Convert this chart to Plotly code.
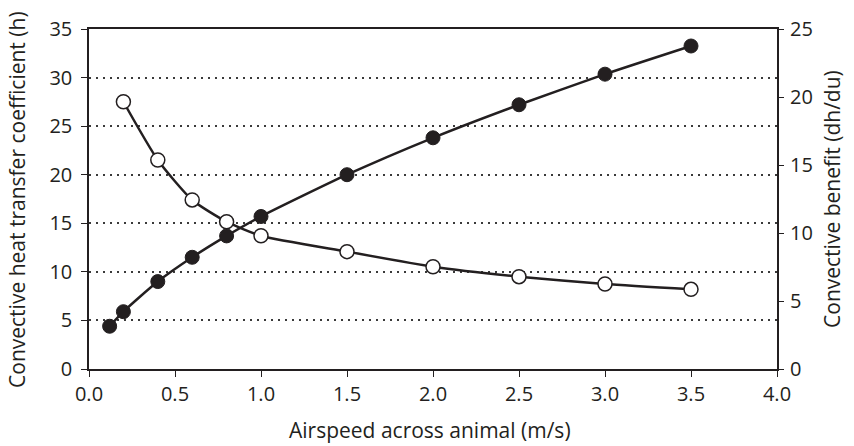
import plotly.graph_objects as go

speed_h = [0.12, 0.2, 0.4, 0.6, 0.8, 1.0, 1.5, 2.0, 2.5, 3.0, 3.5]
h_values = [4.4, 5.9, 9.0, 11.5, 13.7, 15.7, 20.0, 23.8, 27.2, 30.35, 33.25]

speed_b = [0.2, 0.4, 0.6, 0.8, 1.0, 1.5, 2.0, 2.5, 3.0, 3.5]
benefit_values = [19.65, 15.37, 12.43, 10.83, 9.8, 8.63, 7.52, 6.79, 6.25, 5.86]

x_ticks = [0.0, 0.5, 1.0, 1.5, 2.0, 2.5, 3.0, 3.5, 4.0]
x_ticklabels = ["0.0", "0.5", "1.0", "1.5", "2.0", "2.5", "3.0", "3.5", "4.0"]
left_ticks = [0, 5, 10, 15, 20, 25, 30, 35]
right_ticks = [0, 5, 10, 15, 20, 25]

INK = "#231f20"
FONT = "Open Sans"
FS_TICK = 20
FS_TITLE = 21

fig = go.Figure()
fig.add_trace(go.Scatter(
    x=speed_h, y=h_values, mode="lines+markers",
    line=dict(color=INK, width=2.5, shape="spline", smoothing=0.6),
    marker=dict(size=14, color=INK, line=dict(color=INK, width=1)),
    showlegend=False, yaxis="y"))
fig.add_trace(go.Scatter(
    x=speed_b, y=benefit_values, mode="lines+markers",
    line=dict(color=INK, width=2.5, shape="spline", smoothing=0.6),
    marker=dict(size=14, color="white", line=dict(color=INK, width=1.5)),
    showlegend=False, yaxis="y2"))

tick_font = dict(family=FONT, size=FS_TICK, color=INK)
title_font = dict(family=FONT, size=FS_TITLE, color=INK)
fig.update_layout(
    width=854, height=446,
    margin=dict(l=89, r=77, t=29, b=77, autoexpand=False),
    paper_bgcolor="white", plot_bgcolor="white",
    font=dict(family=FONT, size=FS_TICK, color=INK),
    xaxis=dict(
        range=[0, 4.0], tickvals=x_ticks, ticktext=x_ticklabels,
        showgrid=False, zeroline=False, automargin=False,
        showline=True, linecolor=INK, linewidth=1.5, mirror=True,
        ticks="outside", ticklen=6, tickwidth=1.2, tickcolor=INK,
        tickfont=tick_font, ticklabelstandoff=0,
    ),
    yaxis=dict(
        range=[0, 35], tickvals=left_ticks,
        showgrid=True, gridcolor="#3a3a3a", gridwidth=1.5, griddash="2px,5px",
        zeroline=False, automargin=False,
        showline=True, linecolor=INK, linewidth=1.5, mirror=True,
        ticks="outside", ticklen=6, tickwidth=1.2, tickcolor=INK,
        tickfont=tick_font, ticklabelstandoff=5,
    ),
    yaxis2=dict(
        range=[0, 25], tickvals=right_ticks, overlaying="y", side="right",
        showgrid=False, zeroline=False, showline=False, automargin=False,
        ticks="outside", ticklen=6, tickwidth=1.2, tickcolor=INK,
        tickfont=tick_font, ticklabelstandoff=2,
    ),
    annotations=[
        dict(text="Airspeed across animal (m/s)", xref="paper", yref="paper",
             x=0.496, y=-0.179, xanchor="center", yanchor="middle",
             showarrow=False, font=title_font),
        dict(text="Convective heat transfer coefficient (h)", xref="paper", yref="paper",
             x=-0.1047, y=0.5, xanchor="center", yanchor="middle", textangle=-90,
             showarrow=False, font=title_font),
        dict(text="Convective benefit (dh/du)", xref="paper", yref="paper",
             x=1.0799, y=0.5, xanchor="center", yanchor="middle", textangle=-90,
             showarrow=False, font=title_font),
    ],
)

fig.write_html("out.html", config={"displayModeBar": False})

# remove the default page margin so the figure sits at the window's top-left corner
with open("out.html", "r", encoding="utf-8") as f:
    html = f.read()
html = html.replace("<head>", "<head><style>html,body{margin:0;padding:0;overflow:hidden;}</style>", 1)
with open("out.html", "w", encoding="utf-8") as f:
    f.write(html)
